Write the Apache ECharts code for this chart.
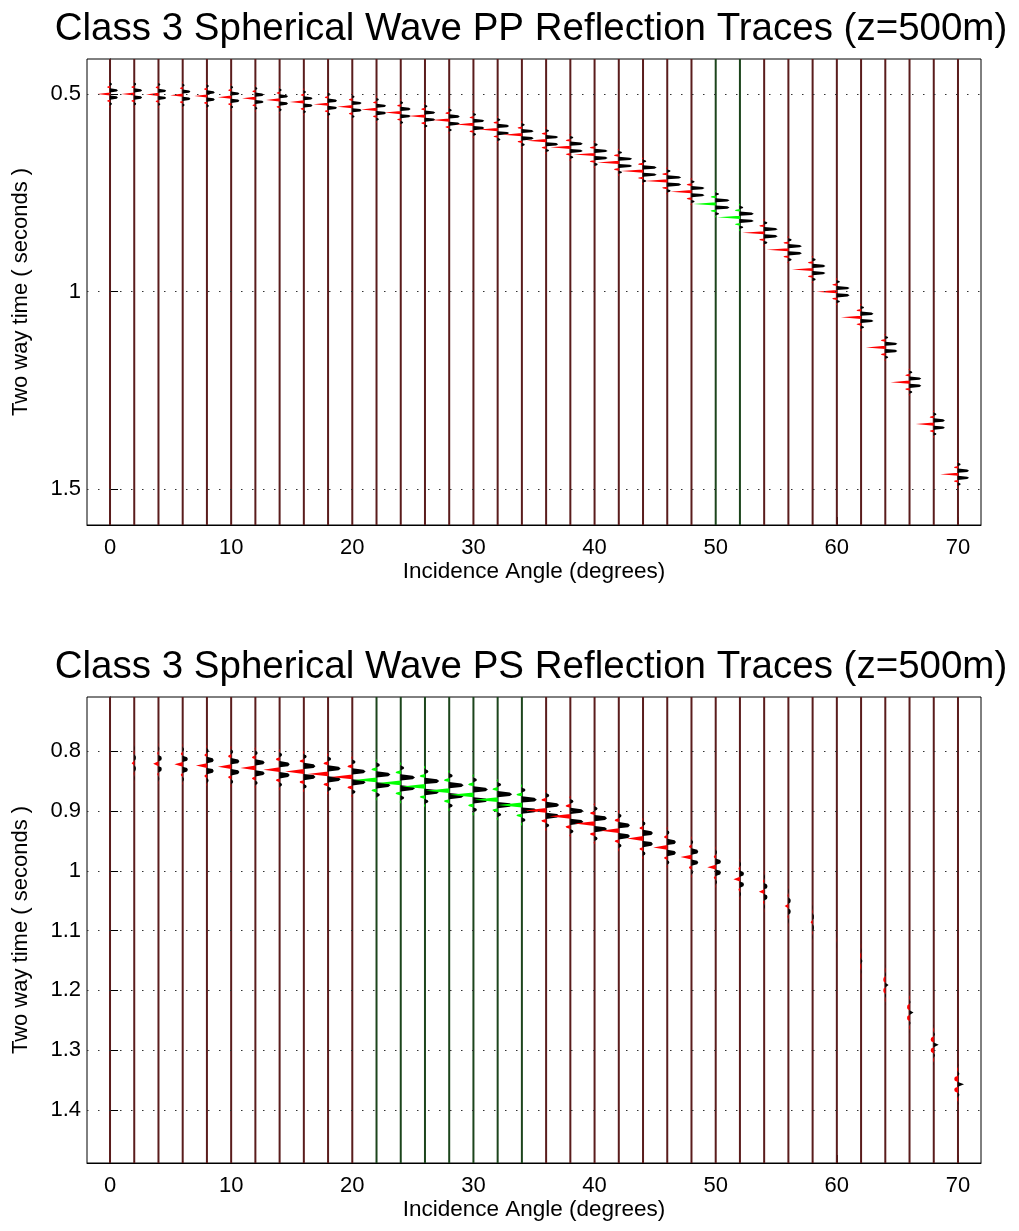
<!DOCTYPE html>
<html><head><meta charset="utf-8">
<script src="https://cdn.jsdelivr.net/npm/echarts@6/dist/echarts.min.js"></script>
<style>html,body{margin:0;padding:0;background:#fff}#c{width:1019px;height:1231px}</style>
</head><body><div id="c"></div>
<script>
// ---- data ----
const angles = [0,2,4,6,8,10,12,14,16,18,20,22,24,26,28,30,32,34,36,38,40,42,44,46,48,50,52,54,56,58,60,62,64,66,68,70];
// PP reflection times (s)
const ppTimes = [0.500,0.500,0.501,0.503,0.505,0.508,0.511,0.515,0.520,0.526,0.532,0.539,0.547,0.556,0.566,0.577,0.590,0.603,0.618,0.635,0.653,0.673,0.695,0.720,0.747,0.778,0.812,0.851,0.894,0.944,1.000,1.065,1.141,1.229,1.335,1.462];
// PP central-lobe amplitude (in degrees of trace deflection; + = red lobe to the left)
const ppAmps = [1.05,1.05,1.03,1.03,1.05,1.10,1.10,1.12,1.16,1.20,1.24,1.28,1.32,1.37,1.41,1.45,1.53,1.57,1.61,1.66,1.74,1.78,1.82,1.86,1.74,1.85,1.85,1.80,1.80,1.71,1.70,1.66,1.61,1.57,1.49,1.47];
const ppGreen = [50,52];
// PS reflection times (s)
const psTimes = [0.820,0.820,0.821,0.822,0.824,0.826,0.828,0.831,0.834,0.838,0.843,0.848,0.853,0.859,0.866,0.873,0.881,0.890,0.899,0.909,0.921,0.933,0.946,0.961,0.977,0.994,1.014,1.035,1.059,1.086,1.116,1.151,1.191,1.237,1.291,1.357];
const psAmps = [0,0.22,0.44,0.69,0.91,1.10,1.24,1.35,1.55,1.68,1.78,1.86,1.90,1.90,1.93,1.93,1.93,1.99,1.74,1.74,1.66,1.49,1.32,1.16,0.91,0.70,0.54,0.44,0.31,0.17,0.02,-0.12,-0.27,-0.33,-0.41,-0.50];
const psGreen = [22,24,26,28,30,32,34];
// wavelet shape: time offsets (ms) and relative amplitude (central lobe = 1)
const waveletMs  = [-35,-32,-29,-27,-25,-23,-21,-19,-17.5,-16,-14.5,-12,-9,-6,-4,0,4,6,9,12,14.5,16,17.5,19,21,23,25,27,29,32,35];
const waveletAmp = [0,0.05,0,-0.12,-0.15,-0.12,0,0.18,0.23,0.18,0,-0.52,-0.62,-0.52,0,1,0,-0.52,-0.62,-0.52,0,0.18,0.23,0.18,0,-0.12,-0.15,-0.12,0,0.05,0];
// ticks
const xTicks = [0,10,20,30,40,50,60,70];
const ppYTicks = [0.5,1,1.5];
const psYTicks = [0.8,0.9,1,1.1,1.2,1.3,1.4];

const FONT = "'Liberation Sans', Arial, Helvetica, sans-serif";

function renderTrace(params, api) {
  const ang = api.value(0), t = api.value(1), amp = api.value(2), green = api.value(3);
  const cs = params.coordSys;
  const base = api.coord([ang, t]);
  const neg = [], pos = [];
  for (let i = 0; i < waveletMs.length; i++) {
    const d = -amp * waveletAmp[i];
    const tt = t + waveletMs[i] / 1000;
    neg.push(api.coord([ang + Math.min(0, d), tt]));
    pos.push(api.coord([ang + Math.max(0, d), tt]));
  }
  const fillC = green ? '#00ff00' : '#ff0000';
  const lineC = green ? '#1c451c' : '#5a1c1c';
  return {
    type: 'group',
    children: [
      { type: 'line', shape: { x1: base[0], y1: cs.y, x2: base[0], y2: cs.y + cs.height },
        style: { stroke: lineC, lineWidth: 2 } },
      { type: 'polygon', shape: { points: neg }, style: { fill: fillC, stroke: null } },
      { type: 'polygon', shape: { points: pos }, style: { fill: '#000', stroke: null } }
    ]
  };
}

function makeData(times, amps, greens) {
  return angles.map((a, i) => [a, times[i], amps[i], greens.indexOf(a) >= 0 ? 1 : 0]);
}

function xAxisCfg(gi) {
  return {
    type: 'value', gridIndex: gi, min: -1.9, max: 71.9,
    name: 'Incidence Angle (degrees)', nameLocation: 'middle', nameGap: 35,
    nameTextStyle: { fontSize: 22.5, color: '#000', fontFamily: FONT },
    axisLine: { show: true, lineStyle: { color: '#000', width: 1 } },
    axisTick: { show: true, inside: true, length: 8, customValues: xTicks, lineStyle: { color: '#000' } },
    axisLabel: { show: true, customValues: xTicks, fontSize: 22, color: '#000', fontFamily: FONT, margin: 12 },
    splitLine: { show: false }
  };
}
function yAxisCfg(gi, min, max, ticks) {
  return {
    type: 'value', gridIndex: gi, inverse: true, min: min, max: max,
    name: 'Two way time ( seconds )', nameLocation: 'middle', nameGap: 55,
    nameTextStyle: { fontSize: 22, color: '#000', fontFamily: FONT },
    axisLine: { show: true, lineStyle: { color: '#000', width: 1 } },
    axisTick: { show: true, inside: true, length: 8, customValues: ticks, lineStyle: { color: '#000' } },
    axisLabel: { show: true, customValues: ticks, fontSize: 22, color: '#000', fontFamily: FONT, margin: 6 },
    splitLine: { show: false }
  };
}
function gridLines(xi, yi, ticks) {
  return {
    type: 'line', xAxisIndex: xi, yAxisIndex: yi, data: [], z: 1, silent: true,
    markLine: {
      silent: true, symbol: ['none', 'none'], label: { show: false },
      lineStyle: { type: [1.5, 9.5], color: '#333', width: 1 },
      data: ticks.map(v => ({ yAxis: v }))
    }
  };
}

const chart = echarts.init(document.getElementById('c'), null, { renderer: 'canvas' });
chart.setOption({
  animation: false,
  backgroundColor: '#fff',
  grid: [
    { left: 87, top: 59, width: 894, height: 466, show: true, borderColor: '#000', borderWidth: 1, backgroundColor: 'transparent' },
    { left: 87, top: 697, width: 894, height: 466, show: true, borderColor: '#000', borderWidth: 1, backgroundColor: 'transparent' }
  ],
  graphic: [
    { type: 'text', x: 531, y: 29, style: { text: 'Class 3 Spherical Wave PP Reflection Traces (z=500m)', fontSize: 38.5, fontFamily: FONT, fill: '#000', textAlign: 'center', textVerticalAlign: 'middle' } },
    { type: 'text', x: 531, y: 667, style: { text: 'Class 3 Spherical Wave PS Reflection Traces (z=500m)', fontSize: 38.5, fontFamily: FONT, fill: '#000', textAlign: 'center', textVerticalAlign: 'middle' } }
  ],
  xAxis: [xAxisCfg(0), xAxisCfg(1)],
  yAxis: [yAxisCfg(0, 0.4115, 1.5903, ppYTicks), yAxisCfg(1, 0.7094, 1.4886, psYTicks)],
  series: [
    gridLines(0, 0, ppYTicks),
    gridLines(1, 1, psYTicks),
    { type: 'custom', xAxisIndex: 0, yAxisIndex: 0, z: 2, clip: true, renderItem: renderTrace,
      encode: { x: 0, y: 1 }, data: makeData(ppTimes, ppAmps, ppGreen) },
    { type: 'custom', xAxisIndex: 1, yAxisIndex: 1, z: 2, clip: true, renderItem: renderTrace,
      encode: { x: 0, y: 1 }, data: makeData(psTimes, psAmps, psGreen) }
  ]
});
</script></body></html>
